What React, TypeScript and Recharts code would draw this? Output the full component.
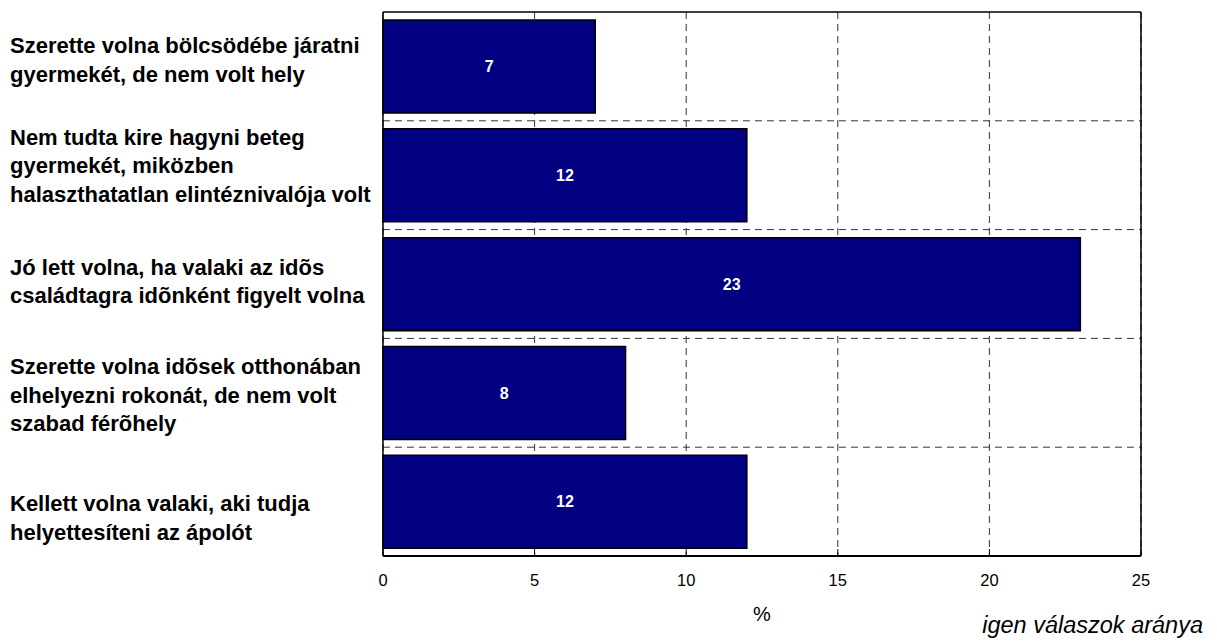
import {
  ComposedChart,
  Bar,
  XAxis,
  YAxis,
  CartesianGrid,
  LabelList,
} from "recharts";

const categories = [
  "Szerette volna bölcsödébe járatni gyermekét, de nem volt hely",
  "Nem tudta kire hagyni beteg gyermekét, miközben halaszthatatlan elintéznivalója volt",
  "Jó lett volna, ha valaki az idõs családtagra idõnként figyelt volna",
  "Szerette volna idõsek otthonában elhelyezni rokonát, de nem volt szabad férõhely",
  "Kellett volna valaki, aki tudja helyettesíteni az ápolót",
];

const categoryLines = [
  ["Szerette volna bölcsödébe járatni", "gyermekét, de nem volt hely"],
  ["Nem tudta kire hagyni beteg", "gyermekét, miközben", "halaszthatatlan elintéznivalója volt"],
  ["Jó lett volna, ha valaki az idõs", "családtagra idõnként figyelt volna"],
  ["Szerette volna idõsek otthonában", "elhelyezni rokonát, de nem volt", "szabad férõhely"],
  ["Kellett volna valaki, aki tudja", "helyettesíteni az ápolót"],
];

const values = [7, 12, 23, 8, 12];

const xTicks = [0, 5, 10, 15, 20, 25];

const data = categories.map((c, i) => ({ name: c, value: values[i] }));

// label block nudges (px), the source doesn't centre them exactly on the bands
const labelShift = [-7, -10, -3, 2, 16];

const FONT = "'Liberation Sans', Arial, sans-serif";

interface TickProps {
  x?: number;
  y?: number;
  payload?: { value: string; index: number };
}

const CategoryTick = ({ y = 0, payload }: TickProps) => {
  const idx = categories.indexOf(payload?.value ?? "");
  const lines = categoryLines[idx] ?? [payload?.value ?? ""];
  const lh = 28.5;
  const base = y + (labelShift[idx] ?? 0) - ((lines.length - 1) / 2) * lh + 8;
  return (
    <text x={10} y={base} textAnchor="start" fontFamily={FONT} fontWeight="bold" fontSize={22} fill="#000">
      {lines.map((l, i) => (
        <tspan key={i} x={10} y={base + i * lh}>
          {l}
        </tspan>
      ))}
    </text>
  );
};

// grid lines on the band boundaries, not the band centres
const bandLines = ({ offset }: { offset: { top: number; height: number } }) =>
  categories.slice(1).map((_, i) => offset.top + (offset.height * (i + 1)) / categories.length);

export default function App() {
  return (
    <div style={{ position: "absolute", left: 0, top: 0, width: 1217, height: 641, background: "#fff" }}>
      <ComposedChart
        width={1217}
        height={641}
        data={data}
        layout="vertical"
        margin={{ top: 11, right: 75, bottom: 45, left: 0 }}
        barCategoryGap="7.4%"
      >
        <CartesianGrid
          stroke="#333"
          strokeDasharray="7 5"
          horizontalCoordinatesGenerator={bandLines}
        />
        <XAxis
          type="number"
          domain={[0, 25]}
          ticks={xTicks}
          height={40}
          tickSize={-7}
          tickMargin={25}
          axisLine={{ stroke: "#000", strokeWidth: 2 }}
          tickLine={{ stroke: "#000" }}
          tick={{ fontFamily: FONT, fontSize: 16.5, fill: "#000" }}
        />
        <XAxis
          xAxisId="top"
          orientation="top"
          type="number"
          domain={[0, 25]}
          height={1}
          tick={false}
          tickLine={false}
          axisLine={{ stroke: "#000", strokeWidth: 1.5 }}
        />
        <YAxis
          yAxisId="cat"
          type="category"
          dataKey="name"
          width={383}
          axisLine={{ stroke: "#000", strokeWidth: 1.5 }}
          tickLine={false}
          tick={<CategoryTick />}
          interval={0}
        />
        <YAxis
          yAxisId="right"
          orientation="right"
          type="category"
          dataKey="name"
          width={1}
          tick={false}
          tickLine={false}
          axisLine={{ stroke: "#000", strokeWidth: 1.5 }}
        />
        <Bar
          yAxisId="cat"
          dataKey="value"
          fill="#000080"
          stroke="#000"
          strokeWidth={1.5}
          isAnimationActive={false}
        >
          <LabelList
            dataKey="value"
            position="center"
            fill="#fff"
            fontFamily={FONT}
            fontWeight="bold"
            fontSize={16}
          />
        </Bar>
      </ComposedChart>
      <div
        style={{
          position: "absolute",
          left: 753,
          top: 603,
          fontFamily: FONT,
          fontSize: 20,
          color: "#000",
        }}
      >
        %
      </div>
      <div
        style={{
          position: "absolute",
          right: 14,
          top: 612,
          fontFamily: FONT,
          fontStyle: "italic",
          fontSize: 23.5,
          color: "#000",
          whiteSpace: "nowrap",
        }}
      >
        igen válaszok aránya
      </div>
    </div>
  );
}
